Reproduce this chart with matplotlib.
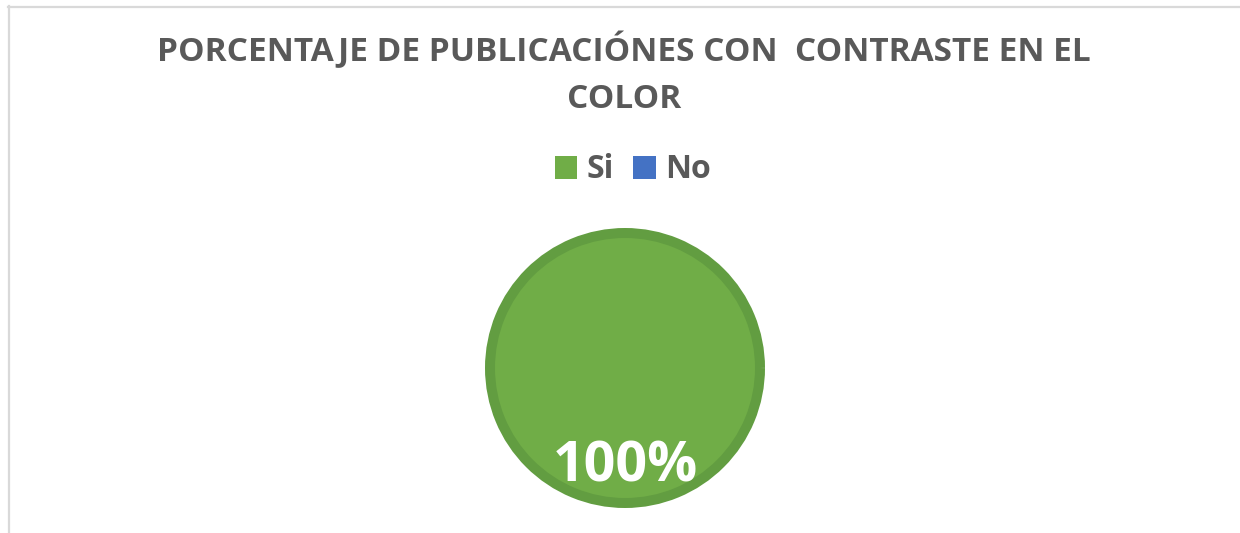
import matplotlib
matplotlib.use("Agg")
import matplotlib.pyplot as plt
from matplotlib.patches import Patch
from matplotlib.lines import Line2D

# data
categorias = ["Si", "No"]
valores = [100, 0]
colores = ["#70AD47", "#4472C4"]
titulo = "PORCENTAJE DE PUBLICACIÓNES CON  CONTRASTE EN EL\nCOLOR"

plt.rcParams['font.family'] = ['Open Sans', 'DejaVu Sans']

W, H = 1240, 533
fig = plt.figure(figsize=(W / 100, H / 100), dpi=100)
fig.patch.set_facecolor("white")

# marco gris del area del grafico
fig.add_artist(Line2D([8.5 / W, 8.5 / W], [0, 1 - 6 / H], color="#D9D9D9", lw=1.6))
fig.add_artist(Line2D([8 / W, 1], [1 - 6.5 / H, 1 - 6.5 / H], color="#D9D9D9", lw=1.6))

# titulo
fig.text(624 / W, 1 - 74 / H, titulo, ha="center", va="center", fontsize=24,
         fontweight="bold", color="#595959", linespacing=1.55)

# pastel
cx, cy, r = 625, 368, 135
ax = fig.add_axes([(cx - r) / W, (H - cy - r) / H, 2 * r / W, 2 * r / H])

def etiqueta(p):
    return "%d%%" % round(p) if p > 0 else ""

wedges, textos, autotextos = ax.pie(valores, colors=colores, startangle=90,
                                    counterclock=False, autopct=etiqueta,
                                    pctdistance=0.73, radius=1,
                                    wedgeprops=dict(edgecolor="#629D41", linewidth=7.2))
for w, v in zip(wedges, valores):
    if v == 0:
        w.set_linewidth(0)
for t in autotextos:
    t.set_color("white")
    t.set_fontsize(40)
    t.set_fontweight("bold")
ax.set_xlim(-1, 1)
ax.set_ylim(-1, 1)
ax.set_aspect("auto")
ax.axis("off")

# leyenda
handles = [Patch(facecolor=c, edgecolor="none", label=l) for c, l in zip(colores, categorias)]
leg = fig.legend(handles=handles, loc="center", bbox_to_anchor=(633 / W, 1 - 170 / H),
                 ncol=2, frameon=False, fontsize=23, handlelength=0.7, handleheight=0.7,
                 handletextpad=0.3, columnspacing=0.6)
for t in leg.get_texts():
    t.set_color("#595959")
    t.set_fontweight("bold")

fig.savefig("out.png", dpi=100)
